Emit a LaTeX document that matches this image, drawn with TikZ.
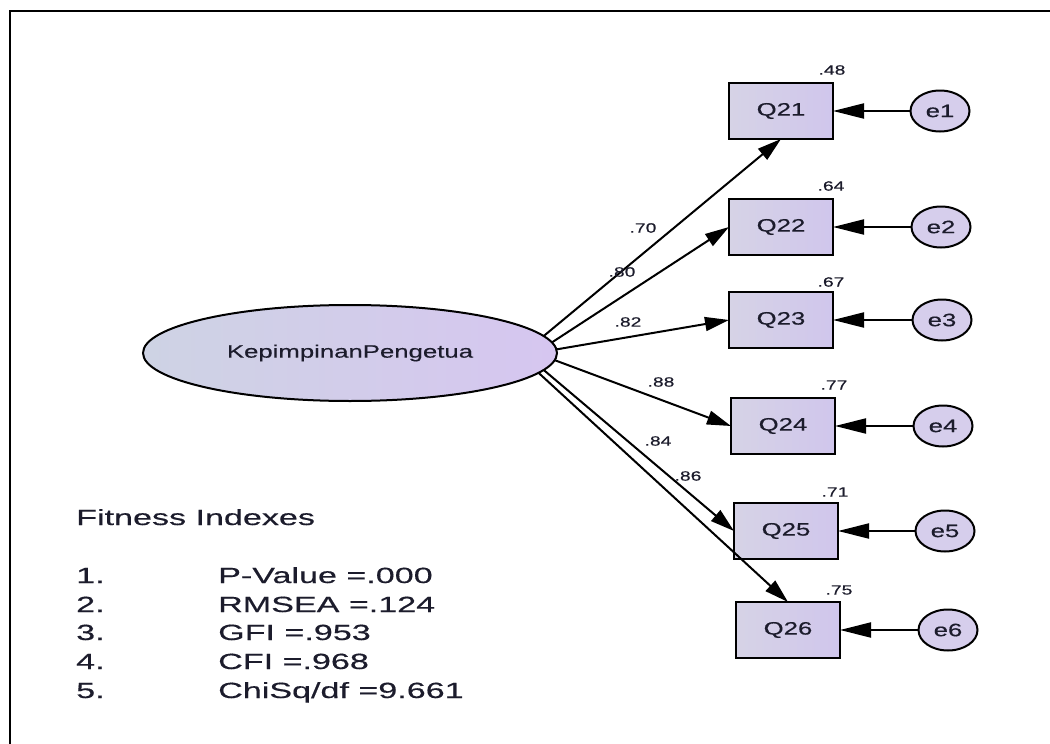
\documentclass[tikz,border=0pt]{standalone}
\usepackage{fontspec}
\setmainfont{Liberation Sans}
\newfontfamily\amosfont[FakeStretch=1.43,FakeBold=0.4]{Liberation Sans}
\newfontfamily\fitfont[FakeStretch=1.55,FakeBold=0.4]{Liberation Sans}
\usetikzlibrary{arrows.meta,shapes.geometric}

\definecolor{inkc}{RGB}{28,28,44}
\definecolor{latL}{RGB}{206,211,228}
\definecolor{latR}{RGB}{214,198,240}
\definecolor{boxL}{RGB}{214,211,230}
\definecolor{boxR}{RGB}{208,198,236}
\definecolor{errc}{RGB}{214,206,236}

\tikzset{
  latent/.style={ellipse, draw=black, line width=2pt, left color=latL, right color=latR,
    minimum width=414pt, minimum height=96pt, inner sep=0pt, outer sep=0pt,
    text=inkc, font=\fontsize{18}{20}\amosfont},
  itembox/.style={rectangle, draw=black, line width=2.6pt, left color=boxL, right color=boxR,
    minimum width=104pt, minimum height=56pt, inner sep=0pt, outer sep=0pt,
    text=inkc, font=\fontsize{18}{20}\amosfont},
  errnode/.style={ellipse, draw=black, line width=2pt, fill=errc,
    minimum width=59pt, minimum height=41pt, inner sep=0pt, outer sep=0pt,
    text=inkc, font=\fontsize{18}{20}\amosfont},
  coef/.style={inner sep=0pt, anchor=center, text=inkc, font=\fontsize{13.5}{14}\amosfont},
  loadarrow/.style={draw=black, line width=2pt, -{Triangle[length=24pt,width=14pt]}},
  errarrow/.style={draw=black, line width=2pt, -{Triangle[length=31pt,width=15pt]}},
  fittext/.style={inner sep=0pt, anchor=base west, text=inkc, font=\fontsize{22}{24}\fitfont},
}

\begin{document}
\begin{tikzpicture}[x=1pt,y=-1pt]
\useasboundingbox (0,0) rectangle (1050,744);
\fill[white] (0,0) rectangle (1050,744);
% outer frame
\draw[line width=2.5pt] (1052,11) -- (10,11) -- (10,746);

% latent variable
\node[latent] (lat) at (350,353) {KepimpinanPengetua};

% observed items
\node[itembox] (q21) at (781,111) {Q21};
\node[itembox] (q22) at (781,227) {Q22};
\node[itembox] (q23) at (781,320) {Q23};
\node[itembox] (q24) at (783,426) {Q24};
\node[itembox] (q25) at (786,531) {Q25};
\node[itembox] (q26) at (788,630) {Q26};

% error terms
\node[errnode] (e1) at (940,111) {e1};
\node[errnode] (e2) at (941,227) {e2};
\node[errnode] (e3) at (942,320) {e3};
\node[errnode] (e4) at (943,426) {e4};
\node[errnode] (e5) at (945,531) {e5};
\node[errnode] (e6) at (948,630) {e6};

% loadings
\draw[loadarrow] (lat.5) -- (q21.south);
\draw[loadarrow] (lat.3) -- (q22.west);
\draw[loadarrow] (lat.1) -- (q23.west);
\draw[loadarrow] (lat.-2) -- (q24.west);
\draw[loadarrow] (lat.-5) -- (q25.west);
\draw[loadarrow] (lat.-6) -- (q26.north);

% error paths
\foreach \i in {1,...,6} {
  \draw[errarrow] (e\i.west) -- (q2\i.east);
}

% loading coefficients
\node[coef] (l21) at (643,228) {.70};
\node[coef] (l22) at (622,272) {.80};
\node[coef] (l23) at (628,322) {.82};
\node[coef] (l24) at (661,382) {.88};
\node[coef] (l25) at (658,441) {.84};
\node[coef] (l26) at (688,476) {.86};

% squared multiple correlations
\node[coef] (r21) at (832,70) {.48};
\node[coef] (r22) at (831,186) {.64};
\node[coef] (r23) at (831,282) {.67};
\node[coef] (r24) at (834,385) {.77};
\node[coef] (r25) at (835,492) {.71};
\node[coef] (r26) at (839,590) {.75};

% fit summary
\node[fittext] (fhead) at (76,525) {Fitness Indexes};
\node[fittext] (n1) at (76,583) {1.};
\node[fittext] (n2) at (76,612) {2.};
\node[fittext] (n3) at (76,640) {3.};
\node[fittext] (n4) at (76,669) {4.};
\node[fittext] (n5) at (76,698) {5.};
\node[fittext] (v1) at (218,583) {P-Value =.000};
\node[fittext] (v2) at (218,612) {RMSEA =.124};
\node[fittext] (v3) at (218,640) {GFI =.953};
\node[fittext] (v4) at (218,669) {CFI =.968};
\node[fittext] (v5) at (218,698) {ChiSq/df =9.661};
\end{tikzpicture}
\end{document}
